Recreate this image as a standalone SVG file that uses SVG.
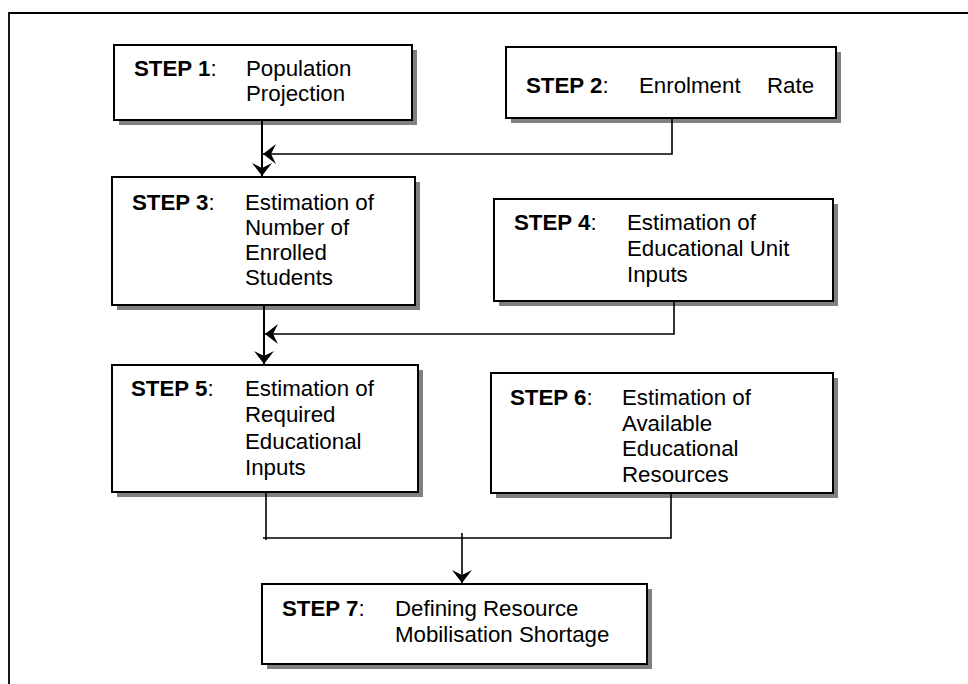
<svg xmlns="http://www.w3.org/2000/svg" width="968" height="684" viewBox="0 0 968 684">
<style>
.shadow{fill:#808080;stroke:none}
.box{fill:#fff;stroke:#000;stroke-width:2}
text{font-family:"Liberation Sans",Arial,sans-serif;font-size:22.3px;fill:#000}
.b{font-weight:bold}
.conn{fill:none;stroke:#000;stroke-width:1.6}
.frame{fill:none;stroke:#000;stroke-width:1.8}
</style>
<defs>
<marker id="arr" markerUnits="userSpaceOnUse" markerWidth="16" markerHeight="24" viewBox="-14 -12 16 24" refX="0" refY="0" orient="auto">
<path d="M0,0 L-13,-10 L-8,0 L-13,10 Z" fill="#000"/>
</marker>
</defs>
<rect width="968" height="684" fill="#fff"/>
<path class="frame" d="M9,684 V13 H968"/>

<g id="step1">
<rect class="shadow" x="119" y="50" width="298" height="75"/>
<rect class="box" x="114" y="45" width="298" height="75"/>
<text x="134" y="76"><tspan class="b">STEP 1</tspan>:</text>
<text x="246" y="76">Population</text>
<text x="246" y="101">Projection</text>
</g>

<g id="step2">
<rect class="shadow" x="511" y="52" width="330" height="71"/>
<rect class="box" x="506" y="47" width="330" height="71"/>
<text x="526" y="93"><tspan class="b">STEP 2</tspan>:</text>
<text x="639" y="93">Enrolment</text>
<text x="767" y="93">Rate</text>
</g>

<g id="step3">
<rect class="shadow" x="117" y="182" width="303" height="128"/>
<rect class="box" x="112" y="177" width="303" height="128"/>
<text x="132" y="209.5"><tspan class="b">STEP 3</tspan>:</text>
<text x="245" y="209.5">Estimation of</text>
<text x="245" y="234.8">Number of</text>
<text x="245" y="260.1">Enrolled</text>
<text x="245" y="285.4">Students</text>
</g>

<g id="step4">
<rect class="shadow" x="499" y="204" width="339" height="102"/>
<rect class="box" x="494" y="199" width="339" height="102"/>
<text x="514" y="230"><tspan class="b">STEP 4</tspan>:</text>
<text x="627" y="230">Estimation of</text>
<text x="627" y="255.8">Educational Unit</text>
<text x="627" y="281.6">Inputs</text>
</g>

<g id="step5">
<rect class="shadow" x="117" y="370" width="306" height="127"/>
<rect class="box" x="112" y="365" width="306" height="127"/>
<text x="131" y="395.7"><tspan class="b">STEP 5</tspan>:</text>
<text x="245" y="395.7">Estimation of</text>
<text x="245" y="422.2">Required</text>
<text x="245" y="448.7">Educational</text>
<text x="245" y="475.2">Inputs</text>
</g>

<g id="step6">
<rect class="shadow" x="496" y="378" width="342" height="120"/>
<rect class="box" x="491" y="373" width="342" height="120"/>
<text x="510" y="405"><tspan class="b">STEP 6</tspan>:</text>
<text x="622" y="405">Estimation of</text>
<text x="622" y="430.5">Available</text>
<text x="622" y="456">Educational</text>
<text x="622" y="481.5">Resources</text>
</g>

<g id="step7">
<rect class="shadow" x="267" y="589" width="385" height="80"/>
<rect class="box" x="262" y="584" width="385" height="80"/>
<text x="282" y="615.7"><tspan class="b">STEP 7</tspan>:</text>
<text x="395" y="615.7">Defining Resource</text>
<text x="395" y="641.7">Mobilisation Shortage</text>
</g>

<g id="connectors">
<path class="conn" style="stroke-width:2" d="M262,121 V176" marker-end="url(#arr)"/>
<path class="conn" d="M672,119 V154 H263" marker-end="url(#arr)"/>
<path class="conn" style="stroke-width:2" d="M264,306 V364" marker-end="url(#arr)"/>
<path class="conn" d="M674,302 V334 H265" marker-end="url(#arr)"/>
<path class="conn" d="M266,493 V540"/>
<path class="conn" d="M263,538 H671 V493"/>
<path class="conn" d="M462,533 V583" marker-end="url(#arr)"/>
</g>
</svg>
